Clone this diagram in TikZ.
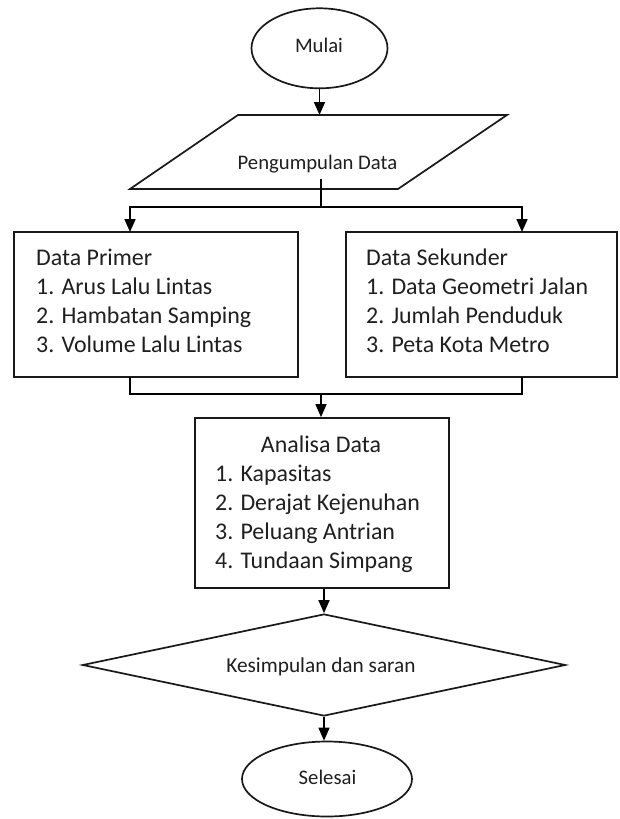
\documentclass[tikz,border=0pt]{standalone}
\usepackage{fontspec}
\setmainfont{Carlito}
\usetikzlibrary{shapes.geometric,arrows.meta}
\begin{document}
\begin{tikzpicture}[x=1pt,y=-1pt,
  outline/.style={draw=black!90, line width=1.7pt},
  txt/.style={font=\fontsize{20.7}{28}\selectfont, text=black!88, inner sep=0pt},
  listtxt/.style={txt, font=\fontsize{23.9}{29}\selectfont},
  link/.style={draw=black, line width=1.6pt},
  flow/.style={link, -{Triangle[length=13pt,width=11pt]}},
  box/.style={outline, rectangle, inner sep=0pt},
  oval/.style={outline, ellipse, inner sep=0pt},
  decision/.style={outline, diamond, inner sep=0pt, aspect=4.74},
]
% page
\fill[white] (0,0) rectangle (620,819);
\useasboundingbox (0,0) rectangle (620,819);

% start
\node[oval, minimum width=136pt, minimum height=80pt] (mulai) at (319.5,48.3) {};
\node[txt, anchor=base] (mulaiT) at (319,52) {Mulai};

% data collection (parallelogram)
\coordinate (pTL) at (238,115);
\coordinate (pTR) at (507,115);
\coordinate (pBR) at (398,189);
\coordinate (pBL) at (130,189);
\draw[outline, line join=miter] (pTL) -- (pTR) -- (pBR) -- (pBL) -- cycle;
\node[txt, anchor=base] (pengT) at (317.5,169) {Pengumpulan Data};
\coordinate (pTop) at (319.5,115);
\coordinate (split) at (321,179);
\coordinate (jt) at (321,207);

% primary and secondary data
\node[box, minimum width=284pt, minimum height=145pt] (prim) at (156,304.5) {};
\node[box, minimum width=271pt, minimum height=145pt] (sek) at (481.5,304.5) {};
\coordinate (inP) at (130,232);
\coordinate (inS) at (522,232);
\coordinate (outP) at (130,377);
\coordinate (outS) at (522,377);
\coordinate (jm) at (321,394);

\foreach \t [count=\i from 0] in {Data Primer, 1. Arus Lalu Lintas, 2. Hambatan Samping, 3. Volume Lalu Lintas}
  \node[listtxt, anchor=base west] (primT\i) at (36,265+29.3*\i) {\t};
\foreach \t [count=\i from 0] in {Data Sekunder, 1. Data Geometri Jalan, 2. Jumlah Penduduk, 3. Peta Kota Metro}
  \node[listtxt, anchor=base west] (sekT\i) at (366,265+29.3*\i) {\t};

% analysis
\node[box, minimum width=254pt, minimum height=170pt] (ana) at (322,503) {};
\node[listtxt, anchor=base] (anaT) at (321,452) {Analisa Data};
\foreach \t [count=\i from 1] in {1. Kapasitas, 2. Derajat Kejenuhan, 3. Peluang Antrian, 4. Tundaan Simpang}
  \node[listtxt, anchor=base west] (anaT\i) at (215,452+29.2*\i) {\t};

% conclusion
\node[decision, minimum width=483pt, minimum height=102pt] (kes) at (324,665) {};
\node[txt, font=\fontsize{21.3}{28}\selectfont, anchor=base] (kesT) at (321,672) {Kesimpulan dan saran};

% end
\node[oval, minimum width=170pt, minimum height=75pt] (sel) at (327,779) {};
\node[txt, anchor=base] (selT) at (327.5,784.5) {Selesai};

% connectors
\draw[flow] (mulai.south) -- (pTop);
\draw[link] (split) -- (jt);
\draw[flow] (jt) -| (inP);
\draw[flow] (jt) -| (inS);
\draw[link] (outP) |- (jm) -| (outS);
\draw[flow] (jm) -- (jm |- ana.north);
\draw[flow] (ana.south -| kes.north) -- (kes.north);
\draw[flow] (kes.south) -- (kes.south |- sel.north);
\end{tikzpicture}
\end{document}
